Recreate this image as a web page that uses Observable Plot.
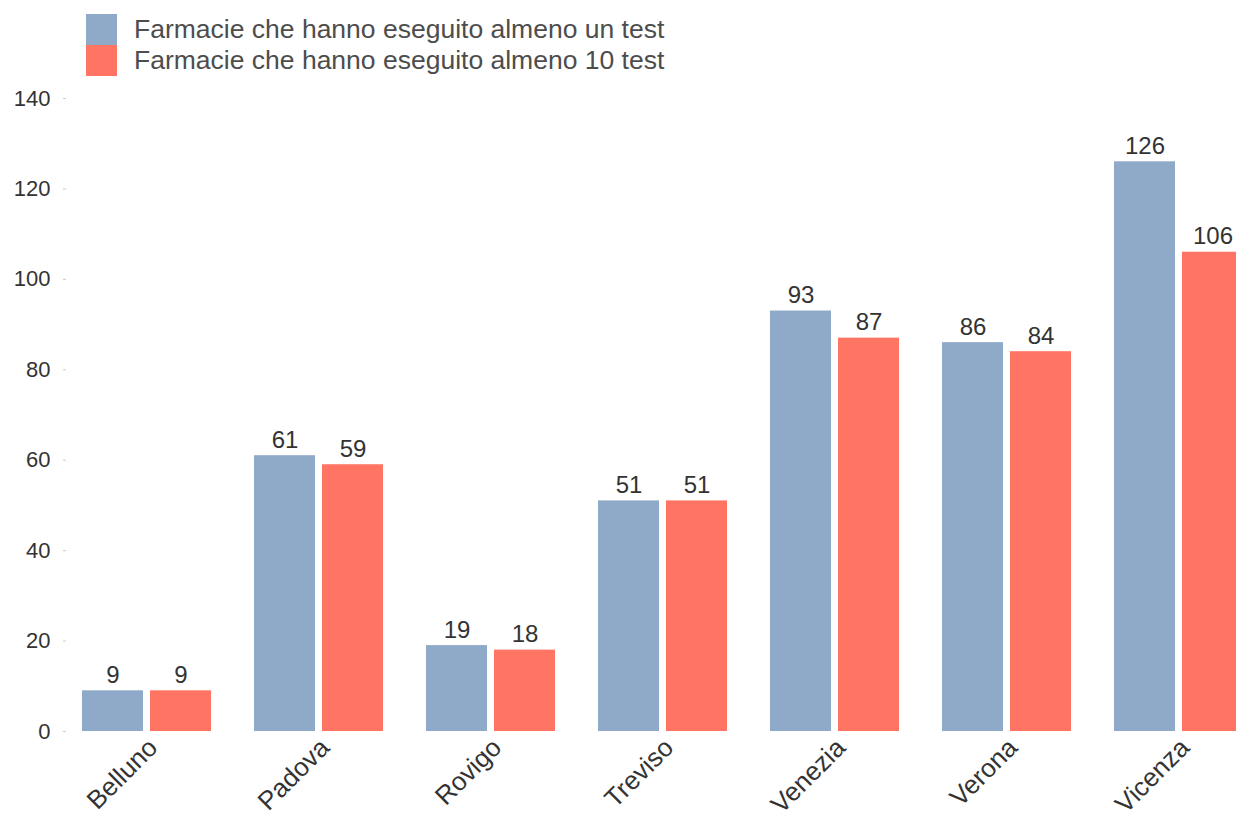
<!DOCTYPE html>
<html><head><meta charset="utf-8">
<script src="https://cdn.jsdelivr.net/npm/d3@7"></script>
<script src="https://cdn.jsdelivr.net/npm/@observablehq/plot@0.6"></script>
<style>
body{margin:0;background:#fff;font-family:"Liberation Sans",Arial,sans-serif;overflow:hidden;width:1236px;height:814px}
#legend{height:80px;box-sizing:border-box;padding:14px 0 0 86px}
.row{display:flex;align-items:center;height:31px;}
.sw{width:31px;height:31px;margin-right:17px}
.lb{font-size:26.5px;color:#4d4d4d}
#chart svg{overflow:hidden;display:block}
</style></head><body>
<div id="legend"></div><div id="chart"></div>
<script>
const provinces = ["Belluno","Padova","Rovigo","Treviso","Venezia","Verona","Vicenza"];
const series = ["Farmacie che hanno eseguito almeno un test","Farmacie che hanno eseguito almeno 10 test"];
const atLeastOne = [9,61,19,51,93,86,126];
const atLeastTen = [9,59,18,51,87,84,106];
const colors = ["#8FAAC9","#FF7462"];
const yTicks = [0,20,40,60,80,100,120,140];

const data = provinces.flatMap((p,i)=>[
  {province:p, series:series[0], value:atLeastOne[i]},
  {province:p, series:series[1], value:atLeastTen[i]}
]);

const legend = document.getElementById("legend");
series.forEach((s,i)=>{
  const r = document.createElement("div"); r.className="row";
  r.innerHTML = `<div class="sw" style="background:${colors[i]}"></div><div class="lb">${s}</div>`;
  legend.appendChild(r);
});

const chart = Plot.plot({
  width:1236, height:734, marginTop:18, marginBottom:83, marginLeft:0, marginRight:0,
  style:{fontFamily:'"Liberation Sans",Arial,sans-serif', fontSize:"21px", color:"#333", background:"white"},
  fx:{domain:provinces, range:[60.5,1264.5], paddingInner:0.238, paddingOuter:0.119, label:null},
  x:{domain:series, paddingInner:0.1, paddingOuter:0, axis:null},
  y:{domain:[0,140], label:null},
  color:{domain:series, range:colors},
  marks:[
    Plot.barY(data,{fx:"province", x:"series", y:"value", fill:"series"}),
    Plot.text(data,{fx:"province", x:"series", y:"value", text:d=>String(d.value), lineAnchor:"bottom", dy:-8, fontSize:24, fill:"#333"}),
    Plot.axisY({ticks:yTicks, tickSize:3, tickPadding:13, dx:-15, stroke:"#ccc", fill:"#333", fontSize:22, label:null}),
    Plot.axisFx({anchor:"bottom", tickRotate:-45, tickSize:0, tickPadding:12, dx:6, fontSize:26, fill:"#333", label:null})
  ]
});
document.getElementById("chart").appendChild(chart);
</script>
</body></html>
